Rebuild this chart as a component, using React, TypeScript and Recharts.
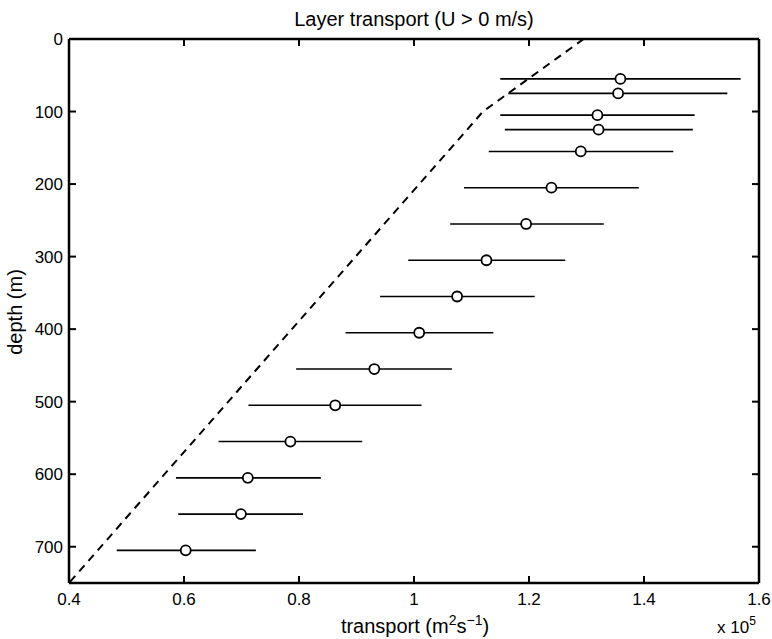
import React from "react";
import {
  ComposedChart,
  Scatter,
  ErrorBar,
  XAxis,
  YAxis,
} from "recharts";

const FONT = '"Liberation Sans", Arial, Helvetica, sans-serif';

// layer depths (m) and transport (x 10^5 m^2/s): mean and error-bar limits
const depths = [55, 75, 105, 125, 155, 205, 255, 305, 355, 405, 455, 505, 555, 605, 655, 705];
const meanTransport = [1.359, 1.355, 1.319, 1.321, 1.29, 1.239, 1.195, 1.126, 1.075, 1.009, 0.931, 0.863, 0.785, 0.711, 0.699, 0.603];
const lowTransport = [1.15, 1.164, 1.15, 1.158, 1.13, 1.087, 1.063, 0.99, 0.941, 0.881, 0.795, 0.712, 0.66, 0.586, 0.59, 0.483];
const highTransport = [1.568, 1.545, 1.488, 1.485, 1.451, 1.391, 1.33, 1.263, 1.21, 1.138, 1.066, 1.013, 0.91, 0.838, 0.807, 0.725];

// dashed reference curve
const refDepths = [0, 100, 750];
const refTransport = [1.295, 1.12, 0.4];

const xTicks = [0.4, 0.6, 0.8, 1, 1.2, 1.4, 1.6];
const yTicks = [0, 100, 200, 300, 400, 500, 600, 700];

const points = depths.map((d, i) => ({
  depth: d,
  x: meanTransport[i],
  err: [meanTransport[i] - lowTransport[i], highTransport[i] - meanTransport[i]],
}));

const refLine = refDepths.map((d, i) => ({ depth: d, x: refTransport[i] }));

const axisLine = { stroke: "#000", strokeWidth: 2.5 };
const tickLine = { stroke: "#000", strokeWidth: 2 };
const TICK = 7;
const X_MARGIN = 10;

// bottom axis: the inward tick mark is drawn here together with the label
function XTick(props: any) {
  const { x, y, payload } = props;
  const axisY = y - X_MARGIN;
  return (
    <g>
      <line x1={x} y1={axisY} x2={x} y2={axisY - TICK} stroke="#000" strokeWidth={2} />
      <text x={x} y={y} dy="0.71em" textAnchor="middle" fontSize={17} fontFamily={FONT} fill="#000">
        {String(payload.value)}
      </text>
    </g>
  );
}

function YTickLabel(props: any) {
  const { x, y, payload } = props;
  return (
    <text x={x} y={y} dy="0.355em" textAnchor="end" fontSize={17} fontFamily={FONT} fill="#000">
      {String(payload.value)}
    </text>
  );
}

const OpenCircle = (props: any) => {
  const { cx, cy } = props;
  if (cx == null || cy == null) return <g />;
  return <circle cx={cx} cy={cy} r={5} fill="#fff" stroke="#000" strokeWidth={1.8} />;
};

export default function App() {
  return (
    <div style={{ position: "absolute", left: 0, top: 0, width: 772, height: 639, background: "#fff" }}>
      <ComposedChart
        width={772}
        height={639}
        margin={{ top: 9, right: 3, bottom: 26, left: 9 }}
      >
        <XAxis
          xAxisId="b"
          type="number"
          dataKey="x"
          domain={[0.4, 1.6]}
          ticks={xTicks}
          allowDataOverflow
          height={30}
          tickSize={0}
          tickMargin={X_MARGIN}
          tick={<XTick />}
          axisLine={axisLine}
          tickLine={false}
        />
        <XAxis
          xAxisId="t"
          orientation="top"
          type="number"
          dataKey="x"
          domain={[0.4, 1.6]}
          ticks={xTicks}
          allowDataOverflow
          height={30}
          tickSize={-TICK}
          tick={() => <g />}
          axisLine={axisLine}
          tickLine={tickLine}
        />
        <YAxis
          yAxisId="l"
          type="number"
          dataKey="depth"
          domain={[0, 750]}
          ticks={yTicks}
          reversed
          allowDataOverflow
          width={60}
          tickSize={-TICK}
          tickMargin={13}
          tick={<YTickLabel />}
          axisLine={axisLine}
          tickLine={tickLine}
        />
        <YAxis
          yAxisId="r"
          orientation="right"
          type="number"
          dataKey="depth"
          domain={[0, 750]}
          ticks={yTicks}
          reversed
          allowDataOverflow
          width={10}
          tickSize={-TICK}
          tick={() => <g />}
          axisLine={axisLine}
          tickLine={tickLine}
        />
        <Scatter
          xAxisId="t"
          yAxisId="r"
          data={refLine}
          line={{ stroke: "#000", strokeWidth: 2, strokeDasharray: "8 6" }}
          lineType="joint"
          shape={() => <g />}
          isAnimationActive={false}
        />
        <Scatter
          xAxisId="b"
          yAxisId="l"
          data={points}
          shape={OpenCircle}
          isAnimationActive={false}
        >
          <ErrorBar dataKey="err" direction="x" width={0} stroke="#000" strokeWidth={1.6} />
        </Scatter>
      </ComposedChart>
      <svg
        width={772}
        height={639}
        style={{ position: "absolute", left: 0, top: 0, pointerEvents: "none" }}
        fontFamily={FONT}
      >
        <text x={414} y={26} textAnchor="middle" fontSize={20} fill="#000">
          Layer transport (U &gt; 0 m/s)
        </text>
        <text transform="translate(22,312) rotate(-90)" textAnchor="middle" fontSize={20} fill="#000">
          depth (m)
        </text>
        <text x={415} y={633} textAnchor="middle" fontSize={20} fill="#000">
          transport (m
          <tspan dy={-8} fontSize={14}>2</tspan>
          <tspan dy={8}>s</tspan>
          <tspan dy={-8} fontSize={14}>−1</tspan>
          <tspan dy={8}>)</tspan>
        </text>
        <text x={717} y={633} fontSize={17} fill="#000">
          x 10
          <tspan dy={-8} fontSize={12}>5</tspan>
        </text>
      </svg>
    </div>
  );
}
